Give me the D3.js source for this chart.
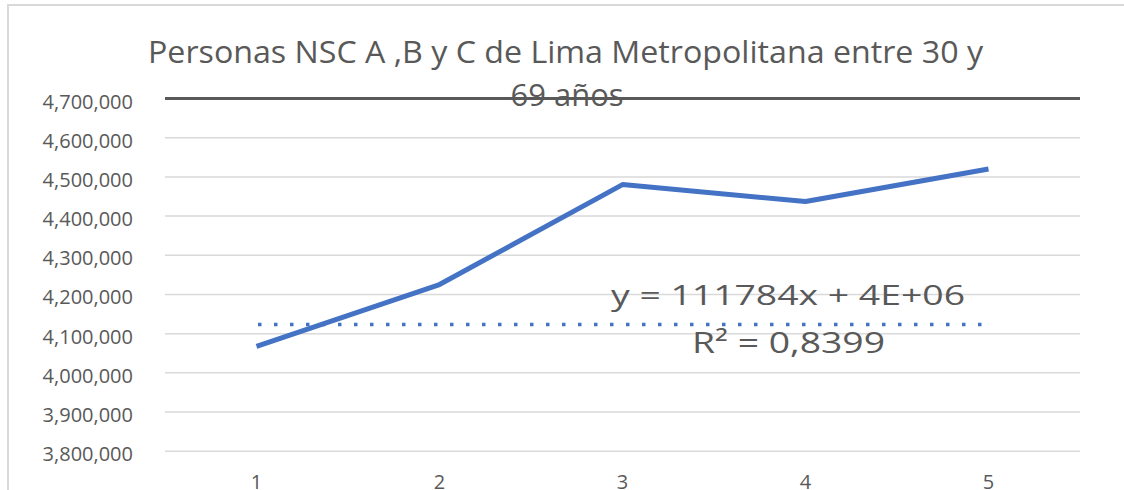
<!DOCTYPE html>
<html>
<head>
<meta charset="utf-8">
<script src="https://cdn.jsdelivr.net/npm/d3@7"></script>
<style>
  html, body { margin: 0; padding: 0; background: #fff; }
  svg { display: block; font-family: "Open Sans", "DejaVu Sans", sans-serif; }
</style>
</head>
<body>
<svg id="chart" width="1124" height="490"></svg>
<script>
// Population (NSC A, B and C, Lima Metropolitana, ages 30-69) per period
const categories = ["1", "2", "3", "4", "5"];
const personas = [4066000, 4224000, 4479000, 4436000, 4519000];

// Linear trendline as drawn (start / end level) and its label
const trendCategories = ["1", "5"];
const trendValues = [4122000, 4122000];
const trendEquation = "y = 111784x + 4E+06";
const trendR2 = "R² = 0,8399";

// Axis ticks
const yTicks = [3800000, 3900000, 4000000, 4100000, 4200000, 4300000, 4400000, 4500000, 4600000, 4700000];
const titleLines = ["Personas NSC A ,B y C de Lima Metropolitana entre 30 y", "69 años"];

const svg = d3.select("#chart");
const W = 1124, H = 490;
const plot = { left: 165, right: 1080, top: 98, bottom: 450.7 };
const textColor = "#595959";

// Outer chart frame (left and top edges)
svg.append("path")
  .attr("d", `M8,${H} L8,5 L${W},5`)
  .attr("fill", "none")
  .attr("stroke", "#d9d9d9")
  .attr("stroke-width", 2);

const x = d3.scaleBand().domain(categories).range([plot.left, plot.right]);
const xc = c => x(c) + x.bandwidth() / 2;
const y = d3.scaleLinear().domain([3800000, 4700000]).range([plot.bottom, plot.top]);

// Horizontal gridlines + value labels
const yAxis = svg.append("g")
  .attr("transform", `translate(${plot.left},0)`)
  .call(d3.axisLeft(y).tickValues(yTicks).tickFormat(d3.format(","))
    .tickSize(-(plot.right - plot.left)).tickPadding(32));
yAxis.select(".domain").remove();
yAxis.selectAll(".tick line")
  .attr("stroke", d => d === 4700000 ? "#595959" : "#d9d9d9")
  .attr("stroke-width", d => d === 4700000 ? 3 : 1.5);
yAxis.selectAll(".tick text")
  .attr("fill", textColor)
  .attr("font-size", 20)
  .attr("dy", "0.5em")
  .style("font-family", "'Open Sans', sans-serif");

// Category labels
const xAxis = svg.append("g")
  .attr("transform", `translate(0,${plot.bottom})`)
  .call(d3.axisBottom(x).tickSize(0).tickPadding(24));
xAxis.select(".domain").remove();
xAxis.selectAll(".tick text")
  .attr("fill", textColor)
  .attr("font-size", 20)
  .style("font-family", "'Open Sans', sans-serif");

// Trendline (dotted)
const trendLine = d3.line().x(d => xc(d[0])).y(d => y(d[1]));
svg.append("path")
  .datum(trendCategories.map((c, i) => [c, trendValues[i]]))
  .attr("d", trendLine)
  .attr("fill", "none")
  .attr("stroke", "#4472c4")
  .attr("stroke-width", 3.5)
  .attr("stroke-dasharray", "3.5,12.5")
  .attr("transform", "translate(1.5,0)");

// Main series line
const line = d3.line().x((d, i) => xc(categories[i])).y(d => y(d));
svg.append("path")
  .datum(personas)
  .attr("d", line)
  .attr("fill", "none")
  .attr("stroke", "#4472c4")
  .attr("stroke-width", 5)
  .attr("stroke-linejoin", "round")
  .attr("stroke-linecap", "butt");

// Title (two lines, second one sits over the top gridline)
svg.append("text")
  .attr("x", 565.5).attr("y", 62.7)
  .attr("text-anchor", "middle")
  .attr("font-size", 31)
  .attr("fill", textColor)
  .attr("textLength", 835)
  .attr("lengthAdjust", "spacingAndGlyphs")
  .text(titleLines[0]);
svg.append("text")
  .attr("x", 567).attr("y", 106)
  .attr("text-anchor", "middle")
  .attr("font-size", 31)
  .attr("fill", textColor)
  .text(titleLines[1]);

// Trendline equation label
svg.append("text")
  .attr("x", 611).attr("y", 305)
  .attr("font-size", 28)
  .attr("fill", textColor)
  .attr("textLength", 354)
  .attr("lengthAdjust", "spacingAndGlyphs")
  .text(trendEquation);
svg.append("text")
  .attr("x", 692).attr("y", 353)
  .attr("font-size", 30)
  .attr("fill", textColor)
  .attr("textLength", 193)
  .attr("lengthAdjust", "spacingAndGlyphs")
  .text(trendR2);
</script>
</body>
</html>
